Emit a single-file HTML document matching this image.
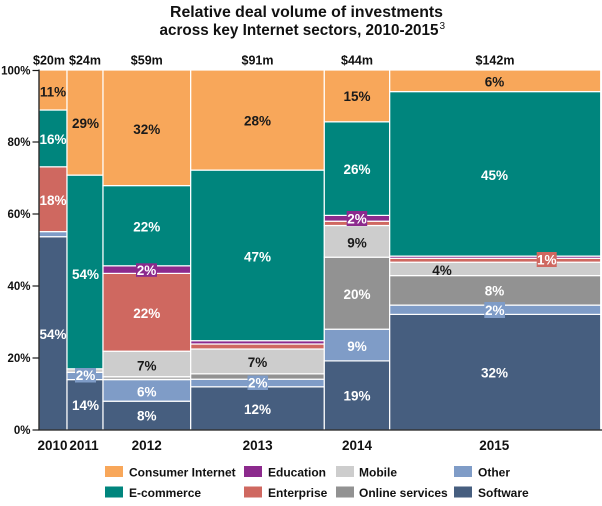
<!DOCTYPE html>
<html>
<head>
<meta charset="utf-8">
<style>
  html,body{margin:0;padding:0;background:#fff;}
  svg{display:block;}
  text{font-family:"Liberation Sans",Arial,Helvetica,sans-serif;font-weight:bold;}
  .w{fill:#fff;font-size:13.5px;text-anchor:middle;}
  .k{fill:#1a1a1a;font-size:13.5px;text-anchor:middle;}
  .yl{fill:#111;font-size:11.5px;text-anchor:end;}
  .top{fill:#111;font-size:12.5px;text-anchor:middle;}
  .yr{fill:#111;font-size:13.5px;text-anchor:middle;}
  .lg{fill:#111;font-size:12px;}
  rect.s{stroke:#fff;stroke-width:1.2;}
</style>
</head>
<body>
<svg width="602" height="506" viewBox="0 0 602 506" xmlns="http://www.w3.org/2000/svg">
  <rect x="0" y="0" width="602" height="506" fill="#fff"/>
  <!-- Title -->
  <text x="170" y="17" font-size="16" fill="#111" textLength="273" lengthAdjust="spacingAndGlyphs">Relative deal volume of investments</text>
  <text x="159.5" y="35" font-size="16" fill="#111" textLength="279" lengthAdjust="spacingAndGlyphs">across key Internet sectors, 2010-2015</text>
  <text x="439.5" y="29" font-size="10" fill="#111" style="font-weight:normal">3</text>

  <!-- Top labels -->
  <text class="top" x="49" y="64.5">$20m</text>
  <text class="top" x="85" y="64.5">$24m</text>
  <text class="top" x="146.8" y="64.5">$59m</text>
  <text class="top" x="257.5" y="64.5">$91m</text>
  <text class="top" x="357" y="64.5">$44m</text>
  <text class="top" x="495" y="64.5">$142m</text>

  <!-- 2010 -->
  <g>
    <rect class="s" x="39" y="236.7" width="28" height="193.3" fill="#465e7f"/>
    <rect class="s" x="39" y="231.6" width="28" height="5.1" fill="#7f9cc7"/>
    <rect class="s" x="39" y="166.8" width="28" height="64.8" fill="#cf6860"/>
    <rect class="s" x="39" y="110" width="28" height="56.8" fill="#00857d"/>
    <rect class="s" x="39" y="70" width="28" height="40" fill="#f8a75a"/>
  </g>
  <!-- 2011 -->
  <g>
    <rect class="s" x="67" y="379.6" width="36" height="50.4" fill="#465e7f"/>
    <rect class="s" x="67" y="372.4" width="36" height="7.2" fill="#7f9cc7"/>
    <rect class="s" x="67" y="368.8" width="36" height="3.6" fill="#cdcdcd"/>
    <rect class="s" x="67" y="175.1" width="36" height="193.7" fill="#00857d"/>
    <rect class="s" x="67" y="70" width="36" height="105.1" fill="#f8a75a"/>
  </g>
  <!-- 2012 -->
  <g>
    <rect class="s" x="103" y="401.2" width="87.7" height="28.8" fill="#465e7f"/>
    <rect class="s" x="103" y="379.6" width="87.7" height="21.6" fill="#7f9cc7"/>
    <rect class="s" x="103" y="376.7" width="87.7" height="2.9" fill="#b5b5b5"/>
    <rect class="s" x="103" y="351.2" width="87.7" height="25.5" fill="#cdcdcd"/>
    <rect class="s" x="103" y="273.4" width="87.7" height="77.8" fill="#cf6860"/>
    <rect class="s" x="103" y="265.8" width="87.7" height="7.6" fill="#8c2a8d"/>
    <rect class="s" x="103" y="185.6" width="87.7" height="80.2" fill="#00857d"/>
    <rect class="s" x="103" y="70" width="87.7" height="115.6" fill="#f8a75a"/>
  </g>
  <!-- 2013 -->
  <g>
    <rect class="s" x="190.7" y="386.8" width="133.6" height="43.2" fill="#465e7f"/>
    <rect class="s" x="190.7" y="379.2" width="133.6" height="7.6" fill="#7f9cc7"/>
    <rect class="s" x="190.7" y="373.8" width="133.6" height="5.4" fill="#929292"/>
    <rect class="s" x="190.7" y="349" width="133.6" height="24.8" fill="#cdcdcd"/>
    <rect class="s" x="190.7" y="344" width="133.6" height="5" fill="#cf6860"/>
    <rect class="s" x="190.7" y="340.7" width="133.6" height="3.3" fill="#8c2a8d"/>
    <rect class="s" x="190.7" y="170.1" width="133.6" height="170.6" fill="#00857d"/>
    <rect class="s" x="190.7" y="70" width="133.6" height="100.1" fill="#f8a75a"/>
  </g>
  <!-- 2014 -->
  <g>
    <rect class="s" x="324.3" y="360.9" width="65.4" height="69.1" fill="#465e7f"/>
    <rect class="s" x="324.3" y="329.2" width="65.4" height="31.7" fill="#7f9cc7"/>
    <rect class="s" x="324.3" y="257.2" width="65.4" height="72" fill="#929292"/>
    <rect class="s" x="324.3" y="225.5" width="65.4" height="31.7" fill="#cdcdcd"/>
    <rect class="s" x="324.3" y="221.2" width="65.4" height="4.3" fill="#cf6860"/>
    <rect class="s" x="324.3" y="215.4" width="65.4" height="5.8" fill="#8c2a8d"/>
    <rect class="s" x="324.3" y="121.8" width="65.4" height="93.6" fill="#00857d"/>
    <rect class="s" x="324.3" y="70" width="65.4" height="51.8" fill="#f8a75a"/>
  </g>
  <!-- 2015 -->
  <g>
    <rect class="s" x="389.7" y="314.4" width="211" height="115.6" fill="#465e7f"/>
    <rect class="s" x="389.7" y="305.1" width="211" height="9.3" fill="#7f9cc7"/>
    <rect class="s" x="389.7" y="275.6" width="211" height="29.5" fill="#929292"/>
    <rect class="s" x="389.7" y="262.2" width="211" height="13.4" fill="#cdcdcd"/>
    <rect class="s" x="389.7" y="258.3" width="211" height="3.9" fill="#cf6860"/>
    <rect class="s" x="389.7" y="256.1" width="211" height="2.2" fill="#8c2a8d"/>
    <rect class="s" x="389.7" y="91.6" width="211" height="164.5" fill="#00857d"/>
    <rect class="s" x="389.7" y="70" width="211" height="21.6" fill="#f8a75a"/>
  </g>

  <!-- Label boxes -->
  <rect x="75" y="368" width="21" height="14.5" fill="#7f9cc7"/>
  <rect x="136" y="263.3" width="21" height="13.5" fill="#8c2a8d"/>
  <rect x="247.5" y="375.5" width="20.5" height="14.5" fill="#7f9cc7"/>
  <rect x="346.7" y="211" width="20.5" height="15" fill="#8c2a8d"/>
  <rect x="484.3" y="302" width="20.7" height="16" fill="#7f9cc7"/>
  <rect x="536.7" y="252" width="20" height="15" fill="#cf6860"/>

  <!-- Segment labels -->
  <text class="k" x="53" y="96.5">11%</text>
  <text class="w" x="53" y="144.2">16%</text>
  <text class="w" x="53" y="204.9">18%</text>
  <text class="w" x="53" y="338.9">54%</text>

  <text class="k" x="85.5" y="128.2">29%</text>
  <text class="w" x="85.5" y="278.9">54%</text>
  <text class="w" x="85.5" y="379.9">2%</text>
  <text class="w" x="85.5" y="409.9">14%</text>

  <text class="k" x="146.8" y="133.9">32%</text>
  <text class="w" x="146.8" y="231.6">22%</text>
  <text class="w" x="146.5" y="274.9">2%</text>
  <text class="w" x="146.8" y="318.2">22%</text>
  <text class="k" x="146.8" y="370.6">7%</text>
  <text class="w" x="146.8" y="396.6">6%</text>
  <text class="w" x="146.8" y="420.6">8%</text>

  <text class="k" x="257.5" y="125.6">28%</text>
  <text class="w" x="257.5" y="261.6">47%</text>
  <text class="k" x="257.5" y="367.2">7%</text>
  <text class="w" x="257.7" y="387.4">2%</text>
  <text class="w" x="257.5" y="413.9">12%</text>

  <text class="k" x="357" y="100.9">15%</text>
  <text class="w" x="357" y="174.2">26%</text>
  <text class="w" x="357" y="223.4">2%</text>
  <text class="k" x="357" y="247.6">9%</text>
  <text class="w" x="357" y="299.2">20%</text>
  <text class="w" x="357" y="350.9">9%</text>
  <text class="w" x="357" y="400.6">19%</text>

  <text class="k" x="494.5" y="86.6">6%</text>
  <text class="w" x="494.5" y="179.9">45%</text>
  <text class="w" x="546.7" y="264.4">1%</text>
  <text class="k" x="442" y="274.9">4%</text>
  <text class="w" x="494.5" y="295.6">8%</text>
  <text class="w" x="494.7" y="314.9">2%</text>
  <text class="w" x="494.5" y="377.6">32%</text>

  <!-- Axes -->
  <line x1="39" y1="69.5" x2="39" y2="430.5" stroke="#1a1a1a" stroke-width="1.3"/>
  <line x1="38.5" y1="430" x2="602" y2="430" stroke="#1a1a1a" stroke-width="1.3"/>
  <g stroke="#1a1a1a" stroke-width="1.2">
    <line x1="32.5" y1="70.5" x2="39" y2="70.5"/>
    <line x1="32.5" y1="142" x2="39" y2="142"/>
    <line x1="32.5" y1="214" x2="39" y2="214"/>
    <line x1="32.5" y1="286" x2="39" y2="286"/>
    <line x1="32.5" y1="358" x2="39" y2="358"/>
    <line x1="32.5" y1="430" x2="39" y2="430"/>
  </g>
  <text class="yl" x="30.5" y="74.5">100%</text>
  <text class="yl" x="30.5" y="146.2">80%</text>
  <text class="yl" x="30.5" y="218.2">60%</text>
  <text class="yl" x="30.5" y="290.2">40%</text>
  <text class="yl" x="30.5" y="362.2">20%</text>
  <text class="yl" x="30.5" y="434.2">0%</text>

  <!-- Year labels -->
  <text class="yr" x="52.5" y="450.2">2010</text>
  <text class="yr" x="84" y="450.2">2011</text>
  <text class="yr" x="146.7" y="450.2">2012</text>
  <text class="yr" x="257.6" y="450.2">2013</text>
  <text class="yr" x="357" y="450.2">2014</text>
  <text class="yr" x="494.3" y="450.2">2015</text>

  <!-- Legend -->
  <rect x="105" y="466" width="18" height="11" fill="#f8a75a"/>
  <text class="lg" x="129" y="476.3">Consumer Internet</text>
  <rect x="105" y="486.5" width="18" height="11" fill="#00857d"/>
  <text class="lg" x="129" y="496.8">E-commerce</text>

  <rect x="244" y="466" width="18" height="11" fill="#8c2a8d"/>
  <text class="lg" x="268" y="476.3">Education</text>
  <rect x="244" y="486.5" width="18" height="11" fill="#cf6860"/>
  <text class="lg" x="268" y="496.8">Enterprise</text>

  <rect x="336" y="466" width="18" height="11" fill="#cdcdcd"/>
  <text class="lg" x="359" y="476.3">Mobile</text>
  <rect x="336" y="486.5" width="18" height="11" fill="#929292"/>
  <text class="lg" x="359" y="496.8">Online services</text>

  <rect x="454" y="466" width="18" height="11" fill="#7f9cc7"/>
  <text class="lg" x="478" y="476.3">Other</text>
  <rect x="454" y="486.5" width="18" height="11" fill="#465e7f"/>
  <text class="lg" x="478" y="496.8">Software</text>
</svg>
</body>
</html>
